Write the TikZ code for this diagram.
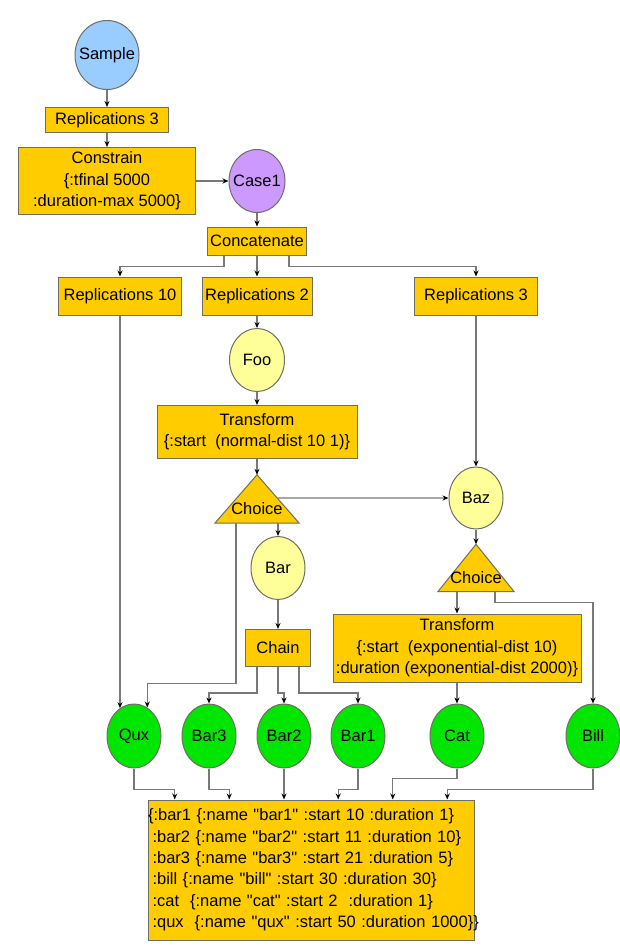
\documentclass[tikz,border=0pt]{standalone}
\usepackage{fontspec}
\setmainfont{Liberation Sans}
\usetikzlibrary{positioning,shapes.geometric,arrows.meta,backgrounds,calc}

\definecolor{gold}{RGB}{255,204,0}
\definecolor{skyblue}{RGB}{153,204,255}
\definecolor{lilac}{RGB}{204,153,255}
\definecolor{paleyellow}{RGB}{255,255,153}
\definecolor{leafgreen}{RGB}{0,230,0}
\definecolor{wiregray}{RGB}{120,120,120}
\definecolor{rimgray}{RGB}{110,110,100}

\begin{document}
\begin{tikzpicture}[
		x=1pt, y=-1pt,
		>={Stealth[length=6pt, width=5pt, color=black]},
		font=\fontsize{16.5}{21.4}\selectfont,
		link/.style = {->, draw=wiregray, line width=1.2pt},
		box/.style = {draw=rimgray, fill=gold, line width=1pt, inner sep=1pt, align=center},
		oval/.style = {ellipse, draw=rimgray, line width=1pt, inner xsep=-14pt, inner ysep=-6pt},
		leaf/.style = {oval, fill=leafgreen, minimum width=54pt, minimum height=64pt},
		choice/.style = {inner sep=0pt, text height=30pt, text depth=0pt}
	]
	\useasboundingbox (0,0) rectangle (619,947);
	\node[oval, fill=skyblue, minimum width=64pt, minimum height=69pt] (sample) at (107,55) {Sample};
	\node[box, minimum width=123pt, minimum height=25pt, node distance=65pt] (reps3) [below of=sample] {Replications 3};
	\node[box, minimum width=177pt, minimum height=67pt, node distance=61pt] (constrain) [below of=reps3] {Constrain\\\{:tfinal 5000\\:duration-max 5000\}};
	\node[oval, fill=lilac, minimum width=56pt, minimum height=63pt, node distance=150pt] (case1) [right of=constrain] {Case1};
	\node[box, minimum width=99pt, minimum height=28pt, node distance=60pt] (concat) [below of=case1] {Concatenate};
	\node[box, minimum width=110pt, minimum height=38pt, node distance=55pt] (reps2) [below of=concat] {Replications 2};
	\node[box, minimum width=123pt, minimum height=38pt, node distance=137pt] (reps10) [left of=reps2] {Replications 10};
	\node[box, minimum width=123pt, minimum height=38pt, node distance=219pt] (reps3b) [right of=reps2] {Replications 3};
	\node[oval, fill=paleyellow, minimum width=55pt, minimum height=63pt, node distance=64pt] (foo) [below of=reps2] {Foo};
	\node[box, minimum width=200pt, minimum height=53pt, node distance=72pt] (xform1) [below of=foo] {Transform\\\{:start\ \ (normal-dist 10 1)\}};
	\node[choice, minimum width=84pt, minimum height=48pt, node distance=67pt] (choice1) [below of=xform1] {Choice};
	\node[oval, fill=paleyellow, minimum width=54pt, minimum height=63pt] (bar) at (278,568) {Bar};
	\node[box, minimum width=65pt, minimum height=37pt, node distance=80pt] (chain) [below of=bar] {Chain};
	\node[oval, fill=paleyellow, minimum width=54pt, minimum height=62pt] (baz) at (476,498) {Baz};
	\node[choice, minimum width=76pt, minimum height=47pt, node distance=70pt] (choice2) [below of=baz] {Choice};
	\node[box, minimum width=248pt, minimum height=68pt] (xform2) at (457,648) {Transform\\\{:start\ \ (exponential-dist 10)\\:duration (exponential-dist 2000)\}};
	\node[leaf] (qux) at (134,736) {Qux};
	\node[leaf, node distance=75pt] (bar3) [right of=qux] {Bar3};
	\node[leaf, node distance=75pt] (bar2) [right of=bar3] {Bar2};
	\node[leaf, node distance=74pt] (bar1) [right of=bar2] {Bar1};
	\node[leaf] (cat) at (457,736) {Cat};
	\node[leaf] (bill) at (593,736) {Bill};
	\node[box, text width=326pt, inner xsep=0pt, minimum height=140pt, align=left] (result) at (311,870) {%
		\mbox{\{:bar1 \{:name \textquotedbl bar1\textquotedbl\ :start 10 :duration 1\}}\\
		\mbox{\hspace*{4.5pt}:bar2 \{:name \textquotedbl bar2\textquotedbl\ :start 11 :duration 10\}}\\
		\mbox{\hspace*{4.5pt}:bar3 \{:name \textquotedbl bar3\textquotedbl\ :start 21 :duration 5\}}\\
		\mbox{\hspace*{4.5pt}:bill \{:name \textquotedbl bill\textquotedbl\ :start 30 :duration 30\}}\\
		\mbox{\hspace*{4.5pt}:cat\ \ \{:name \textquotedbl cat\textquotedbl\ :start 2\ \ :duration 1\}}\\
		\mbox{\hspace*{4.5pt}:qux\ \ \{:name \textquotedbl qux\textquotedbl\ :start 50 :duration 1000\}\}}};
	% the two Choice triangles sit behind their labels
	\begin{scope}[on background layer]
		\draw[draw=rimgray, fill=gold, line width=1pt] (choice1.north) -- (choice1.south east) -- (choice1.south west) -- cycle;
		\draw[draw=rimgray, fill=gold, line width=1pt] (choice2.north) -- (choice2.south east) -- (choice2.south west) -- cycle;
	\end{scope}
	\draw[link] (sample) -- (reps3);
	\draw[link] (reps3) -- (constrain);
	\draw[link] (constrain) -- (case1);
	\draw[link] (case1) -- (concat);
	\draw[link] ([xshift=-33pt]concat.south) -- ++(0,11) -| (reps10);
	\draw[link] (concat) -- (reps2);
	\draw[link] ([xshift=32pt]concat.south) -- ++(0,11) -| (reps3b);
	\draw[link] (reps2) -- (foo);
	\draw[link] (foo) -- (xform1);
	\draw[link] (xform1) -- (choice1.north);
	\draw[link] ($(choice1.north)!.48!(choice1.south east)$) -- (baz.west);
	\draw[link] (choice1.south -| bar) -- (bar);
	\draw[link] ([xshift=-21pt]choice1.south) -- ++(0,160) -| (qux.65);
	\draw[link] (reps10) -- (reps10 |- qux.117);
	\draw[link] (bar) -- (chain);
	\draw[link] ([xshift=-21pt]chain.south) -- ++(0,26) -| (bar3);
	\draw[link] (chain.south) -- ++(0,26) -| (bar2);
	\draw[link] ([xshift=21pt]chain.south) -- ++(0,26) -| (bar1);
	\draw[link] (reps3b) -- (baz);
	\draw[link] (baz) -- (choice2.north);
	\draw[link] (choice2.south -| xform2) -- (xform2);
	\draw[link] ([xshift=19pt]choice2.south) -- ++(0,11) -| (bill);
	\draw[link] (xform2) -- (cat);
	% leaves into the result map
	\draw[link] (qux.south) -- ++(0,21) -| ($(result.north west)!.0833!(result.north east)$);
	\draw[link] (bar3.south) -- ++(0,21) -| ($(result.north west)!.25!(result.north east)$);
	\draw[link] (bar2) -- (bar2 |- result.north);
	\draw[link] (bar1.south) -- ++(0,21) -| ($(result.north west)!.5833!(result.north east)$);
	\draw[link] (cat.south) -- ++(0,10) -| ($(result.north west)!.75!(result.north east)$);
	\draw[link] (bill.south) -- ++(0,21) -| ($(result.north west)!.9167!(result.north east)$);
\end{tikzpicture}
\end{document}
